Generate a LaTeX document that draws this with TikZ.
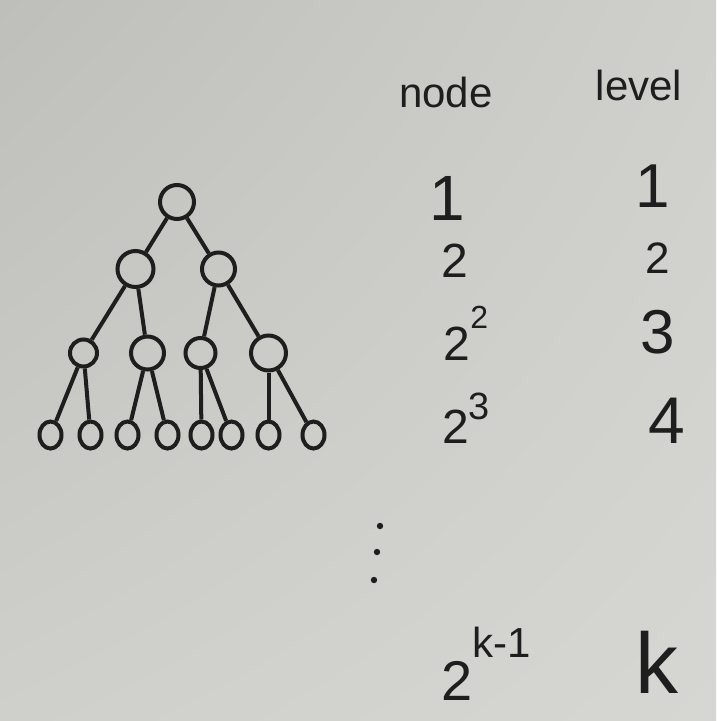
\documentclass[tikz,border=0pt]{standalone}
\usepackage{fontspec}
\setmainfont{Liberation Sans}
\usetikzlibrary{shapes.geometric,shadings}
\definecolor{paper}{RGB}{207,207,204}
\definecolor{paperdark}{RGB}{190,190,187}
\definecolor{paperlight}{RGB}{214,214,211}
\definecolor{ink}{RGB}{30,30,30}
\newcommand{\topow}[4]{#1\raisebox{#3}{\fontsize{#4}{#4}\selectfont #2}}

\begin{document}
\begin{tikzpicture}[x=1pt,y=-1pt,
    vertex/.style={circle,draw=ink,line width=4pt,inner sep=0pt},
    leaf/.style={ellipse,draw=ink,line width=4pt,inner sep=0pt,minimum width=22pt,minimum height=27pt},
    edge from parent/.style={draw=ink,line width=4pt},
    level 1/.style={level distance=67pt,sibling distance=83pt},
    level 2/.style={level distance=84pt,sibling distance=64pt},
    level 3/.style={level distance=82pt,sibling distance=40pt},
    cell/.style={text=ink,inner sep=0pt,anchor=base,font=\fontsize{48}{48}\selectfont},
    head/.style={cell,font=\fontsize{42}{42}\selectfont}]
    \shade[upper left=paperdark,upper right=paper,lower left=paper,lower right=paperlight] (0,0) rectangle (716,721);
    % the tree
    \node[vertex,minimum size=34pt] (root) at (177,202) {}
        child {node[vertex,minimum size=36pt] (a) {}
            child[xshift=-20pt] {node[vertex,minimum size=27pt] (aa) {}
                child[xshift=-13pt] {node[leaf] (aaa) {}}
                child[xshift=-13pt] {node[leaf] (aab) {}}
            }
            child[xshift=-20pt] {node[vertex,minimum size=33pt] (ab) {}
                child {node[leaf] (aba) {}}
                child {node[leaf] (abb) {}}
            }
        }
        child {node[vertex,minimum size=33pt] (b) {}
            child[xshift=14pt] {node[vertex,minimum size=30pt] (ba) {}
                child[xshift=21pt] {node[leaf] (baa) {}}
                child[xshift=11pt] {node[leaf] (bab) {}}
            }
            child[xshift=18pt] {node[vertex,minimum size=35pt] (bb) {}
                child[xshift=20pt] {node[leaf] (bba) {}}
                child[xshift=25pt] {node[leaf] (bbb) {}}
            }
        };
    % the table
    \node[head] (nodehead) at (446,107) {node};
    \node[head] (levelhead) at (639,100) {level};
    \node[cell,font=\fontsize{64}{64}\selectfont] (n1) at (447,220) {1};
    \node[cell] (n2) at (455,277) {2};
    \node[cell] (n3) at (466,360) {\topow{2}{2}{32pt}{32}};
    \node[cell] (n4) at (466,443) {\topow{2}{3}{24pt}{38}};
    \node[cell,font=\fontsize{56}{56}\selectfont] (nk) at (486,700) {\topow{2}{k-1}{43pt}{42}};
    \node[cell,font=\fontsize{62}{62}\selectfont] (l1) at (653,207) {1};
    \node[cell,font=\fontsize{44}{44}\selectfont] (l2) at (658,273) {2};
    \node[cell,font=\fontsize{62}{62}\selectfont] (l3) at (658,353) {3};
    \node[cell,font=\fontsize{66}{66}\selectfont] (l4) at (667,443) {4};
    \node[cell,font=\fontsize{86}{86}\selectfont] (lk) at (657,693) {k};
    \foreach \px/\py in {380/526,377/552,374/580}
        \fill[ink] (\px,\py) circle (3.2pt);
\end{tikzpicture}
\end{document}
